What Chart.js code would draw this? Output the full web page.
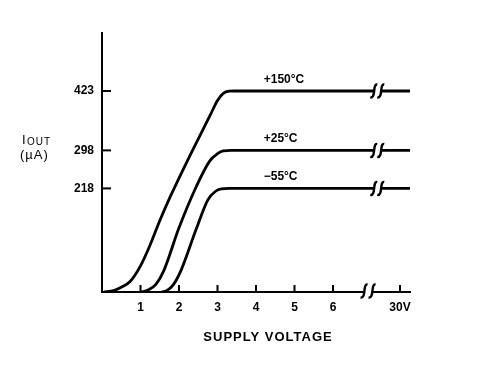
<!DOCTYPE html>
<html>
<head>
<meta charset="utf-8">
<style>
  html, body { margin: 0; padding: 0; background: #fff; }
</style>
<script src="https://cdn.jsdelivr.net/npm/chart.js@4.4.1/dist/chart.umd.min.js"></script>
</head>
<body>
<canvas id="chart" width="496" height="372"></canvas>
<script>
// curves: supply volts -> output current (uA)
const volts150 = [0.05, 0.3, 0.5, 0.73, 1.0, 1.25, 1.5, 1.77, 2.29, 2.81, 3.0, 3.15, 3.3, 3.45, 8];
const amps150  = [0, 3, 10, 22, 55, 99, 150, 200, 288, 372, 403, 418, 422.5, 423, 423];
const volts25  = [1.0, 1.2, 1.4, 1.6, 2.0, 2.45, 2.8, 3.0, 3.15, 3.35, 8];
const amps25   = [0, 4, 16, 44, 135, 222, 276, 291, 297, 298, 298];
const voltsM55 = [1.55, 1.7, 1.85, 2.05, 2.45, 2.75, 2.95, 3.1, 3.3, 8];
const ampsM55  = [0, 4, 15, 45, 133, 194, 212, 217, 218, 218];

const curveLabels = ['+150°C', '+25°C', '−55°C'];
const curveLevels = [423, 298, 218];

const yTicks = [218, 298, 423];
const xTicks = [1, 2, 3, 4, 5, 6, 7.74];
const xTickLabels = ['1', '2', '3', '4', '5', '6', '30V'];

// where the "ʃʃ" breaks sit (volts)
const axisBreak = 6.91;
const lineBreak = 7.15;

const FONT = "'Liberation Sans', Arial, Helvetica, sans-serif";
Chart.defaults.font.family = FONT;
Chart.defaults.color = '#000';

function pts(xs, ys) {
  return xs.map((x, i) => ({ x: x, y: ys[i] }));
}

function drawS(ctx, cx, cy) {
  ctx.beginPath();
  ctx.moveTo(cx + 3.5, cy - 6.5);
  ctx.bezierCurveTo(cx - 1.5, cy - 7.5, cx + 2.5, cy + 7.5, cx - 3.5, cy + 6.5);
  ctx.stroke();
}

// tick marks inside the axes, the breaks and the free text
const decor = {
  id: 'decor',
  afterDatasetsDraw(chart) {
    const ctx = chart.ctx;
    const xs = chart.scales.x, ys = chart.scales.y;
    const area = chart.chartArea;
    ctx.save();
    ctx.strokeStyle = '#000';
    ctx.lineWidth = 2;
    xTicks.forEach(v => {
      const px = xs.getPixelForValue(v);
      ctx.beginPath();
      ctx.moveTo(px, area.bottom);
      ctx.lineTo(px, area.bottom - 7);
      ctx.stroke();
    });
    yTicks.forEach(v => {
      const py = ys.getPixelForValue(v);
      ctx.beginPath();
      ctx.moveTo(area.left, py);
      ctx.lineTo(area.left + 9, py);
      ctx.stroke();
    });

    // breaks on the curves
    ctx.lineWidth = 2.4;
    const lb = xs.getPixelForValue(lineBreak);
    curveLevels.forEach(lv => {
      const py = ys.getPixelForValue(lv);
      ctx.fillStyle = '#fff';
      ctx.fillRect(lb - 3.5, py - 3, 7, 6);
      drawS(ctx, lb - 3.5, py);
      drawS(ctx, lb + 3.5, py);
    });
    // break on the x axis
    const ab = xs.getPixelForValue(axisBreak);
    ctx.fillStyle = '#fff';
    ctx.fillRect(ab - 4, area.bottom - 3, 8, 6);
    drawS(ctx, ab - 4, area.bottom - 1);
    drawS(ctx, ab + 4, area.bottom - 1);

    // curve labels
    ctx.fillStyle = '#000';
    ctx.textAlign = 'left';
    ctx.textBaseline = 'alphabetic';
    ctx.font = 'bold 12px ' + FONT;
    curveLabels.forEach((t, i) => {
      ctx.fillText(t, xs.getPixelForValue(4.2), ys.getPixelForValue(curveLevels[i]) - 8);
    });

    // y axis title: I(OUT) over (uA)
    ctx.font = '13px ' + FONT;
    ctx.fillText('I', 22, 144);
    ctx.font = '10px ' + FONT;
    ctx.letterSpacing = '1px';
    ctx.fillText('OUT', 27, 145);
    ctx.font = '13px ' + FONT;
    ctx.fillText('(µA)', 20, 159);

    // x axis title
    ctx.font = 'bold 13px ' + FONT;
    ctx.textAlign = 'center';
    ctx.textBaseline = 'middle';
    ctx.fillText('SUPPLY VOLTAGE', 268, 337);
    ctx.restore();
  }
};

const ctx = document.getElementById('chart').getContext('2d');
const lineStyle = { borderColor: '#000', borderWidth: 2.8, pointRadius: 0, cubicInterpolationMode: 'monotone', fill: false };

new Chart(ctx, {
  type: 'line',
  data: {
    datasets: [
      Object.assign({ label: '+150°C', data: pts(volts150, amps150) }, lineStyle),
      Object.assign({ label: '+25°C', data: pts(volts25, amps25) }, lineStyle),
      Object.assign({ label: '−55°C', data: pts(voltsM55, ampsM55) }, lineStyle)
    ]
  },
  options: {
    responsive: false,
    animation: false,
    layout: { padding: { left: 0, right: 86, top: 33, bottom: 0 } },
    plugins: {
      legend: { display: false },
      tooltip: { enabled: false }
    },
    scales: {
      x: {
        type: 'linear',
        min: 0,
        max: 8,
        grid: { display: false, drawTicks: false },
        border: { display: true, color: '#000', width: 2 },
        afterBuildTicks: s => { s.ticks = xTicks.map(v => ({ value: v })); },
        afterFit: s => { s.height = 80; },
        ticks: {
          autoSkip: false,
          maxRotation: 0,
          padding: 8,
          font: { size: 12, weight: 'bold' },
          callback: (v, i) => xTickLabels[i]
        }
      },
      y: {
        type: 'linear',
        min: 0,
        max: 545,
        grid: { display: false, drawTicks: false },
        border: { display: true, color: '#000', width: 2 },
        afterBuildTicks: s => { s.ticks = yTicks.map(v => ({ value: v })); },
        afterFit: s => { s.width = 102; },
        ticks: {
          padding: 8,
          font: { size: 12, weight: 'bold' },
          callback: v => String(v)
        }
      }
    }
  },
  plugins: [decor]
});
</script>
</body>
</html>
